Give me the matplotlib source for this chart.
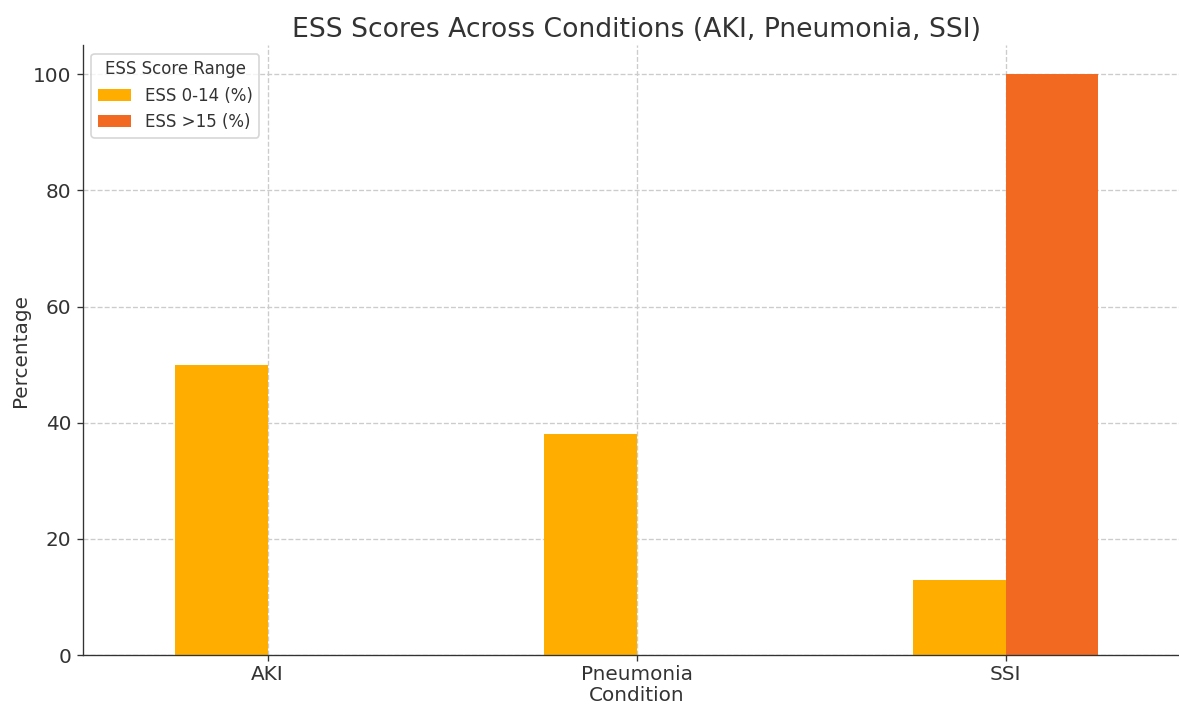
import matplotlib.pyplot as plt
import numpy as np

conditions = ["AKI", "Pneumonia", "SSI"]
ess_low = [50, 38, 13]     # ESS 0-14 (%)
ess_high = [0, 0, 100]     # ESS >15 (%)
series_labels = ["ESS 0-14 (%)", "ESS >15 (%)"]
colors = ["#FFAE00", "#F26A21"]

DPI = 120
fig = plt.figure(figsize=(1179 / DPI, 704 / DPI), dpi=DPI)
ax = fig.add_axes([0.0704, 0.0696, 0.939, 0.866])

x = np.arange(len(conditions))
width = 0.25
ax.bar(x - width / 2, ess_low, width, color=colors[0], label=series_labels[0], zorder=2)
ax.bar(x + width / 2, ess_high, width, color=colors[1], label=series_labels[1], zorder=2)

ax.set_xlim(-0.5, 2.5)
ax.set_ylim(0, 105)
ax.set_xticks(x)
ax.set_xticklabels(conditions)
ax.tick_params(labelsize=12, colors="#333333")
ax.tick_params(axis="x", pad=2.5)
ax.grid(True, linestyle="--", color="#cccccc", linewidth=0.8, zorder=0)
ax.set_axisbelow(True)

for side in ["top", "right"]:
    ax.spines[side].set_visible(False)
for side in ["left", "bottom"]:
    ax.spines[side].set_color("#333333")

ax.set_title("ESS Scores Across Conditions (AKI, Pneumonia, SSI)", fontsize=16, color="#333333", pad=5)
ax.set_xlabel("Condition", fontsize=12, color="#333333", labelpad=1)
ax.set_ylabel("Percentage", fontsize=12, color="#333333", labelpad=2)

leg = ax.legend(title="ESS Score Range", loc="upper left", fontsize=10, title_fontsize=10)
for t in leg.get_texts():
    t.set_color("#333333")
leg.get_title().set_color("#333333")

fig.savefig("out.png", dpi=DPI)
